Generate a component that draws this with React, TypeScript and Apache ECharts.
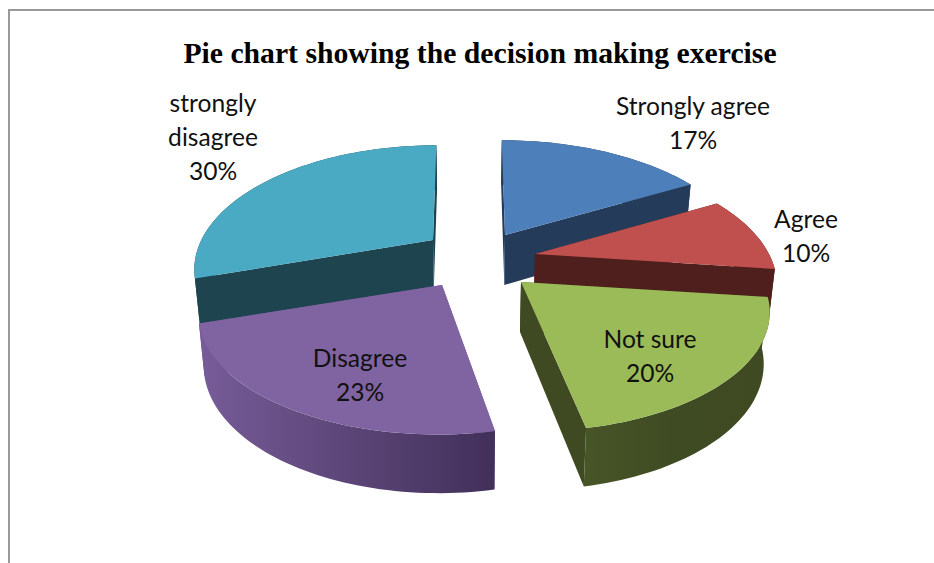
import React, { useEffect, useRef } from "react";
import * as echarts from "echarts";

const categories = ["Strongly agree", "Agree", "Not sure", "Disagree", "strongly disagree"];
const labelLines = ["Strongly agree", "Agree", "Not sure", "Disagree", "strongly\ndisagree"];
const percents = [17, 10, 20, 23, 30];

// layout and style, kept apart from the data
const topColors = ["#4d7fbb", "#c0504d", "#9bbb59", "#8064a2", "#4aaac4"];
const wallColors = ["#253b5a", "#4f1f1d", "#3f4a22", "#6e5590", "#1e4450"];
const arcGradients: [string, string, string][] = [
  ["#253b5a", "#253b5a", "#253b5a"],
  ["#4f1f1d", "#4f1f1d", "#4f1f1d"],
  ["#475527", "#3f4b23", "#3f4a22"],
  ["#775c99", "#5c4678", "#41305a"],
  ["#1e4450", "#1e4450", "#1e4450"],
];
const explodeX = [35, 65, 51, -28, -37];
const explodeY = [-27, -8, 20, 23, -22];
const radiusScale = [1.012, 1, 1.03, 1.012, 0.99];
const labelX = [693, 806, 650, 360, 213];
const labelY = [122, 235, 355, 374, 136];
const drawOrder = [0, 4, 1, 3, 2];

const CX = 470;
const CY = 262;
const RX = 234;
const RY = 116;
const PERSP = 0.224;
const DEPTH = 50;
const total = percents.reduce((a, b) => a + b, 0);

function sliceAngles(i: number) {
  let before = 0;
  for (let k = 0; k < i; k++) before += percents[k];
  const a0 = (before / total) * Math.PI * 2;
  const a1 = a0 + (percents[i] / total) * Math.PI * 2;
  return [a0, a1];
}

function project(i: number, r: number, angle: number, lowered: boolean): number[] {
  const u = r * Math.sin(angle);
  const v = -r * Math.cos(angle);
  const w = 1 / (1 - PERSP * v);
  const ex = explodeX[i];
  const ey = explodeY[i];
  const x = CX + ex + RX * radiusScale[i] * u * w + ex * (w - 1) * 0.5;
  const y = CY + ey + RY * v * w;
  if (!lowered) return [x, y];
  return [CX + (x - CX) * 0.98, y + DEPTH * (1 + (w - 1) * 0.6)];
}

function arcPoints(i: number, lowered: boolean, a0: number, a1: number): number[][] {
  const pts: number[][] = [];
  const n = Math.max(2, Math.ceil(((a1 - a0) * 180) / Math.PI / 1.5));
  for (let k = 0; k <= n; k++) pts.push(project(i, 1, a0 + ((a1 - a0) * k) / n, lowered));
  return pts;
}

function renderSlice(_params: any, api: any) {
  const i = api.value(0) as number;
  const [a0, a1] = sliceAngles(i);
  const apexTop = project(i, 0, 0, false);
  const apexBottom = project(i, 0, 0, true);
  const top = arcPoints(i, false, a0, a1);
  const bottom = arcPoints(i, true, a0, a1);
  const g = arcGradients[i];
  const arcFill = new echarts.graphic.LinearGradient(0, 0, 1, 0, [
    { offset: 0, color: g[0] },
    { offset: 0.5, color: g[1] },
    { offset: 1, color: g[2] },
  ]);
  const wall = (edge: number[], edgeBottom: number[]) => ({
    type: "polygon",
    shape: { points: [apexTop, edge, edgeBottom, apexBottom] },
    style: { fill: wallColors[i] },
  });
  return {
    type: "group",
    children: [
      wall(top[0], bottom[0]),
      wall(top[top.length - 1], bottom[bottom.length - 1]),
      {
        type: "polygon",
        shape: { points: [...top, ...bottom.slice().reverse()] },
        style: { fill: arcFill },
      },
      {
        type: "polygon",
        shape: { points: [apexTop, ...top] },
        style: { fill: topColors[i] },
      },
    ],
  };
}

function renderLabel(_params: any, api: any) {
  const i = api.value(0) as number;
  return {
    type: "text",
    style: {
      x: labelX[i],
      y: labelY[i],
      text: `${labelLines[i]}\n${percents[i]}%`,
      fill: "#111111",
      font: "24.6px Lato",
      lineHeight: 34,
      align: "center",
      verticalAlign: "middle",
    },
  };
}

export default function App() {
  const ref = useRef<HTMLDivElement>(null);
  useEffect(() => {
    document.body.style.margin = "0";
    const chart = echarts.init(ref.current!, null, { renderer: "svg" });
    chart.setOption({
      animation: false,
      backgroundColor: "#ffffff",
      title: {
        text: "Pie chart showing the decision making exercise",
        left: 475,
        top: 33,
        textAlign: "center",
        textStyle: {
          fontFamily: "Liberation Serif",
          fontWeight: "bold",
          fontSize: 29.7,
          color: "#000000",
        },
      },
      graphic: [
        {
          type: "polyline",
          silent: true,
          shape: { points: [[9, 563], [9, 10], [934, 10]] },
          style: { stroke: "#999999", lineWidth: 2, fill: "none" },
        },
      ],
      series: [
        {
          type: "custom",
          coordinateSystem: "none",
          silent: true,
          z: 2,
          renderItem: renderSlice,
          data: drawOrder.map((i) => ({ name: categories[i], value: [i, percents[i]] })),
        },
        {
          type: "custom",
          coordinateSystem: "none",
          silent: true,
          z: 3,
          renderItem: renderLabel,
          data: categories.map((name, i) => ({ name, value: [i, percents[i]] })),
        },
      ],
    });
    return () => chart.dispose();
  }, []);
  return <div ref={ref} style={{ width: 934, height: 563 }} />;
}
